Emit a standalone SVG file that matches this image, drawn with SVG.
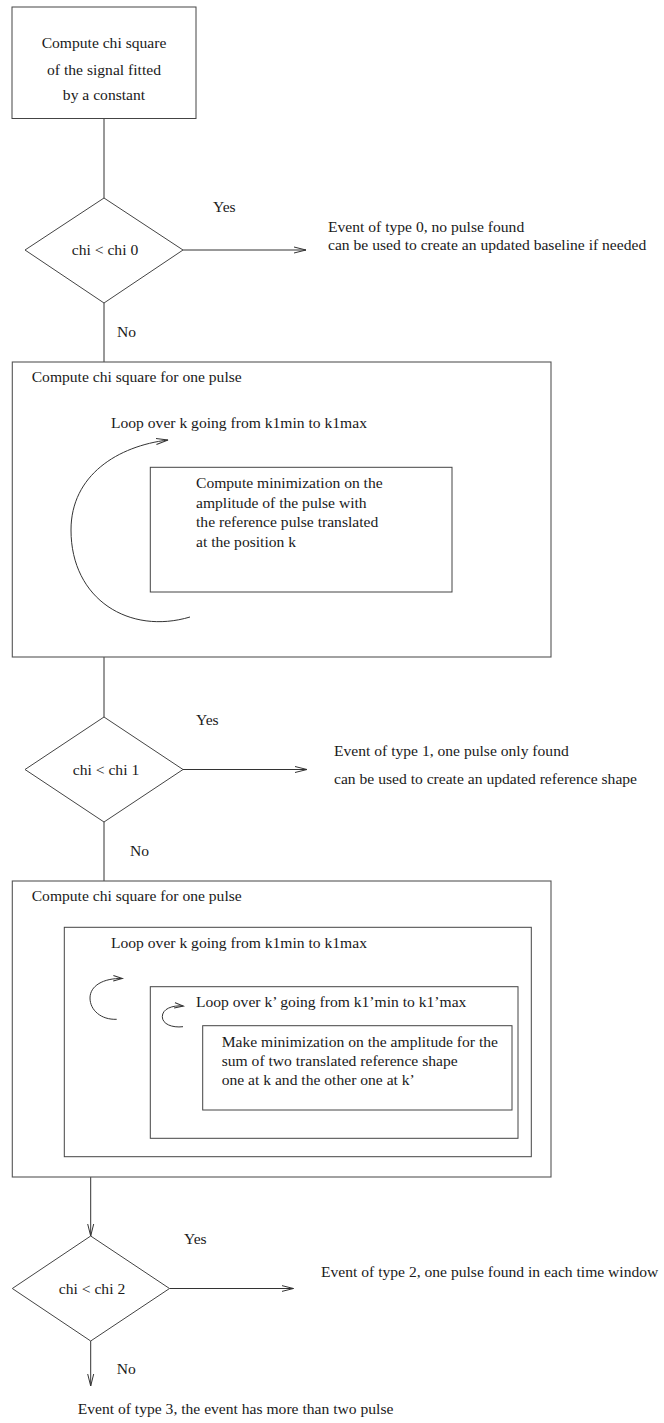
<svg xmlns="http://www.w3.org/2000/svg" width="664" height="1423" viewBox="0 0 664 1423">
  <style>
    .bg { fill: #ffffff; }
    .box { fill: none; stroke: #444; stroke-width: 1; }
    .frame { fill: none; stroke: #555; stroke-width: 1.1; }
    .line { fill: none; stroke: #333; stroke-width: 1; }
    .t { font-family: "Liberation Serif", "Times New Roman", serif; font-size: 15.6px; fill: #1a1a1a; }
    .c { text-anchor: middle; }
  </style>
  <defs>
    <marker id="open" markerUnits="userSpaceOnUse" markerWidth="14" markerHeight="10" refX="12" refY="4" orient="auto">
      <path d="M0,1 L12,4 L0,7" fill="none" stroke="#333" stroke-width="1"/>
    </marker>
    <marker id="openSmall" markerUnits="userSpaceOnUse" markerWidth="12" markerHeight="10" refX="9" refY="4" orient="auto">
      <path d="M0,1.3 L9,4 L0,6.7" fill="none" stroke="#333" stroke-width="1"/>
    </marker>
  </defs>

  <rect class="bg" x="0" y="0" width="664" height="1423"/>

  <!-- connectors -->
  <g id="connectors">
    <line class="line" x1="104" y1="118.5" x2="104" y2="198"/>
    <line class="line" x1="183" y1="250" x2="306" y2="250" marker-end="url(#open)"/>
    <line class="line" x1="104" y1="303" x2="104" y2="362"/>
    <line class="line" x1="104" y1="657" x2="104" y2="717"/>
    <line class="line" x1="183" y1="769.5" x2="307" y2="769.5" marker-end="url(#open)"/>
    <line class="line" x1="104" y1="822" x2="104" y2="881"/>
    <line class="line" x1="90.7" y1="1177" x2="90.7" y2="1236" marker-end="url(#open)"/>
    <line class="line" x1="169.5" y1="1288.5" x2="293.5" y2="1288.5" marker-end="url(#open)"/>
    <line class="line" x1="90.7" y1="1341" x2="90.7" y2="1386" marker-end="url(#open)"/>
  </g>

  <!-- start: constant fit -->
  <g id="node-constant-fit">
    <rect class="box" x="12" y="7" width="184" height="111.5"/>
    <text class="t c" x="104" y="47.5">Compute chi square</text>
    <text class="t c" x="104" y="74.5">of the signal fitted</text>
    <text class="t c" x="104" y="99.5">by a constant</text>
  </g>

  <!-- decision 0 -->
  <g id="node-decision-0">
    <polygon class="box" points="104,198 183,250 104,303 25,250"/>
    <text class="t c" x="105" y="255">chi &lt; chi 0</text>
    <text class="t" x="213" y="212">Yes</text>
    <text class="t" x="117" y="336.5">No</text>
  </g>

  <g id="node-event-0">
    <text class="t" x="328" y="231.5">Event of type 0, no pulse found</text>
    <text class="t" x="328" y="250">can be used to create an updated baseline if needed</text>
  </g>

  <!-- one pulse fit -->
  <g id="node-one-pulse">
    <rect class="frame" x="12.3" y="362" width="538.7" height="295"/>
    <text class="t" x="31.7" y="381.5">Compute chi square for one pulse</text>
    <text class="t" x="111" y="428">Loop over k going from k1min to k1max</text>
    <path class="line" d="M190,617 C130,635 71,600 71,530 C71,475 118,446 168,440" marker-end="url(#open)"/>
    <rect class="box" x="150.3" y="467.3" width="301.7" height="124.7"/>
    <text class="t" x="196" y="488">Compute minimization on the</text>
    <text class="t" x="196" y="507.5">amplitude of the pulse with</text>
    <text class="t" x="196" y="527">the reference pulse translated</text>
    <text class="t" x="196" y="546.5">at the position k</text>
  </g>

  <!-- decision 1 -->
  <g id="node-decision-1">
    <polygon class="box" points="104,717 183,769.5 104,822 25,769.5"/>
    <text class="t c" x="106" y="774.5">chi &lt; chi 1</text>
    <text class="t" x="196" y="725">Yes</text>
    <text class="t" x="130" y="856">No</text>
  </g>

  <g id="node-event-1">
    <text class="t" x="334" y="755.5">Event of type 1, one pulse only found</text>
    <text class="t" x="334" y="783.5">can be used to create an updated reference shape</text>
  </g>

  <!-- two pulse fit -->
  <g id="node-two-pulse">
    <rect class="frame" x="12.3" y="881" width="538.7" height="296"/>
    <text class="t" x="31.7" y="901">Compute chi square for one pulse</text>
    <rect class="box" x="64.3" y="927.3" width="467" height="229.4"/>
    <text class="t" x="111" y="947.5">Loop over k going from k1min to k1max</text>
    <path class="line" d="M116.7,1019.3 C101,1020 90,1010 90,998 C90,986 103,978 122.3,978.5" marker-end="url(#openSmall)"/>
    <rect class="box" x="150.3" y="986.7" width="367.7" height="151.6"/>
    <text class="t" x="196" y="1006.5">Loop over k’ going from k1’min to k1’max</text>
    <path class="line" d="M183,1026.7 C172,1028 162.3,1024 162.3,1016.7 C162.3,1009 172,1005 183.3,1006" marker-end="url(#openSmall)"/>
    <rect class="box" x="202.7" y="1025.7" width="309.3" height="84.3"/>
    <text class="t" x="221.7" y="1046.5">Make minimization on the amplitude for the</text>
    <text class="t" x="221.7" y="1065.5">sum of two translated reference shape</text>
    <text class="t" x="221.7" y="1084.5">one at k and the other one at k’</text>
  </g>

  <!-- decision 2 -->
  <g id="node-decision-2">
    <polygon class="box" points="90.7,1236 169.5,1288.5 90.7,1341 12.3,1288.5"/>
    <text class="t c" x="92" y="1293.5">chi &lt; chi 2</text>
    <text class="t" x="184" y="1243.5">Yes</text>
    <text class="t" x="116.7" y="1374">No</text>
  </g>

  <g id="node-event-2">
    <text class="t" x="321" y="1276.5">Event of type 2, one pulse found in each time window</text>
  </g>

  <g id="node-event-3">
    <text class="t" x="77.7" y="1413.5">Event of type 3, the event has more than two pulse</text>
  </g>
</svg>
